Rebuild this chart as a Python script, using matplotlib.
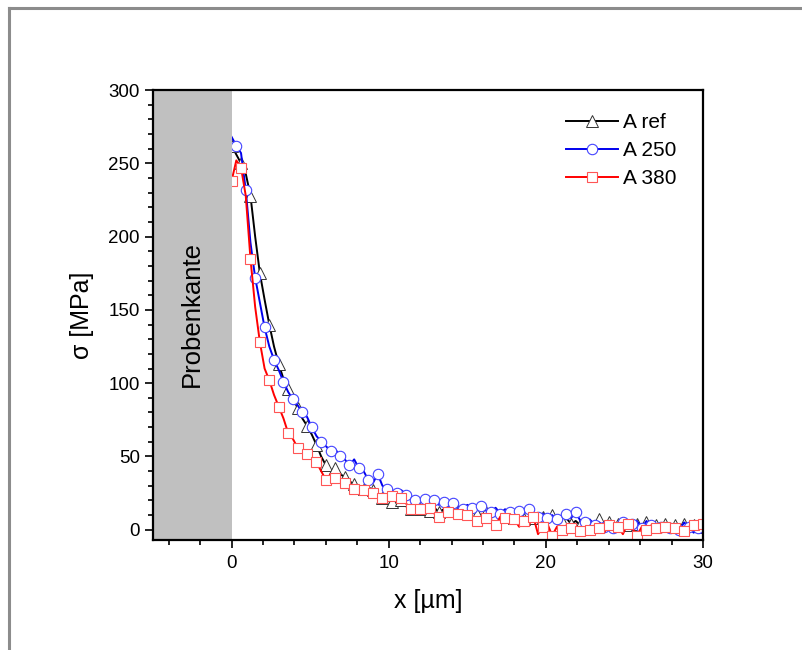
import numpy as np
import matplotlib
matplotlib.use("Agg")
import matplotlib.pyplot as plt
from matplotlib.lines import Line2D
from matplotlib.ticker import MultipleLocator

plt.rcParams['font.family'] = ['Liberation Sans', 'DejaVu Sans']

# x positions of the line scan (um), step 0.3
x = np.round(np.arange(101) * 0.3, 1)

sigma_ref = [262, 256, 250, 243, 228, 200, 175, 157, 140, 125,
             113, 103, 96, 90, 83, 76, 71, 65, 58, 50,
             44, 40, 42, 38, 36, 33, 31, 30, 28, 29,
             27, 25, 22, 20, 19, 18, 20, 16, 14, 15,
             14, 17, 13, 15, 12, 14, 16, 12, 13, 11,
             12, 15, 11, 10, 12, 9, 11, 13, 9, 12,
             8, 10, 7, 9, 8, 6, 9, 7, 10, 5,
             6, 8, 4, 6, 3, 5, 2, 4, 7, 3,
             5, 1, 4, 2, 3, 0, 4, 2, 5, 1,
             3, 0, 4, 2, 3, 1, 4, 2, 3, 0, 2]

sigma_250 = [268, 262, 257, 232, 196, 172, 155, 138, 125, 116,
             109, 101, 94, 89, 85, 80, 77, 70, 64, 60,
             57, 54, 55, 50, 48, 44, 48, 42, 40, 34,
             32, 38, 30, 28, 27, 25, 27, 24, 22, 20,
             19, 21, 18, 20, 17, 19, 16, 18, 15, 14,
             17, 15, 14, 16, 13, 12, 15, 11, 14, 12,
             10, 13, 11, 14, 12, 9, 11, 8, 10, 7,
             9, 11, 8, 12, 6, 5, 7, 3, 5, 2,
             4, 1, 3, 5, 2, 4, 6, 1, 6, 3,
             0, 2, 4, 1, 3, 0, 5, 2, -2, 1, 0]

sigma_380 = [238, 252, 247, 228, 185, 152, 128, 110, 102, 92,
             84, 76, 66, 62, 56, 54, 52, 48, 46, 40,
             34, 38, 35, 34, 32, 30, 28, 29, 27, 26,
             25, 23, 22, 24, 23, 20, 22, 18, 14, 15,
             14, 12, 15, 11, 9, 10, 12, 10, 11, 8,
             10, 9, 6, 4, 8, 7, 3, 9, 8, 4,
             7, 2, 6, 3, 9, -3, 2, 4, -4, 2,
             0, 3, 1, 3, -1, 2, 0, 3, 1, -2,
             3, 0, 2, -3, 4, 1, -4, 2, 0, 3,
             1, -2, 2, 0, 1, 3, -1, 2, 3, 1, 4]

labels = ['A ref', 'A 250', 'A 380']

fig = plt.figure(figsize=(8.02, 6.5), dpi=100)
ax = fig.add_axes([0.1908, 0.1692, 0.6858, 0.6923])

ax.plot(x, sigma_ref, color='black', lw=1.4, marker='^', ms=8, mfc='white',
        mec='#333333', mew=0.7, markevery=2, label=labels[0], zorder=2)
ax.plot(x, sigma_250, color='#0000ee', lw=1.4, marker='o', ms=7.5, mfc='white',
        mec='#4444ff', mew=0.8, markevery=(1, 2), label=labels[1], zorder=2)
ax.plot(x, sigma_380, color='#ff0000', lw=1.4, marker='s', ms=6.5, mfc='white',
        mec='#ff5555', mew=0.8, markevery=2, label=labels[2], zorder=2)

ax.axvspan(-5, 0, color='#c0c0c0', zorder=3, lw=0)
ax.text(-2.55, 147, 'Probenkante', rotation=90, ha='center', va='center',
        fontsize=18.5, zorder=4)

ax.set_xlim(-5, 30)
ax.set_ylim(-7, 300)
ax.xaxis.set_major_locator(MultipleLocator(10))
ax.xaxis.set_minor_locator(MultipleLocator(2))
ax.yaxis.set_major_locator(MultipleLocator(50))
ax.yaxis.set_minor_locator(MultipleLocator(10))
ax.tick_params(axis='both', which='major', labelsize=13.5, direction='out',
               length=6, width=1.2)
ax.tick_params(axis='both', which='minor', direction='out', length=3.5, width=1.2)
ax.tick_params(axis='x', which='both', pad=5)

for s in ax.spines.values():
    s.set_linewidth(1.6)
    s.set_zorder(5)

ax.set_xlabel('x [µm]', fontsize=18, labelpad=12)
ax.set_ylabel('σ [MPa]', fontsize=18, labelpad=10)

ax.legend(loc='upper left', bbox_to_anchor=(0.751, 0.948), frameon=False,
          fontsize=15, handlelength=2.5, handletextpad=0.25,
          labelspacing=0.42, borderpad=0, borderaxespad=0)

# grey frame round the page (top and left edges are visible)
frame_col = '#8c8c8c'
fig.add_artist(Line2D([0.0107, 0.0107], [0.0, 0.988], color=frame_col, lw=2.2))
fig.add_artist(Line2D([0.0107, 1.0], [0.988, 0.988], color=frame_col, lw=2.2))

fig.savefig('out.png', dpi=100)
